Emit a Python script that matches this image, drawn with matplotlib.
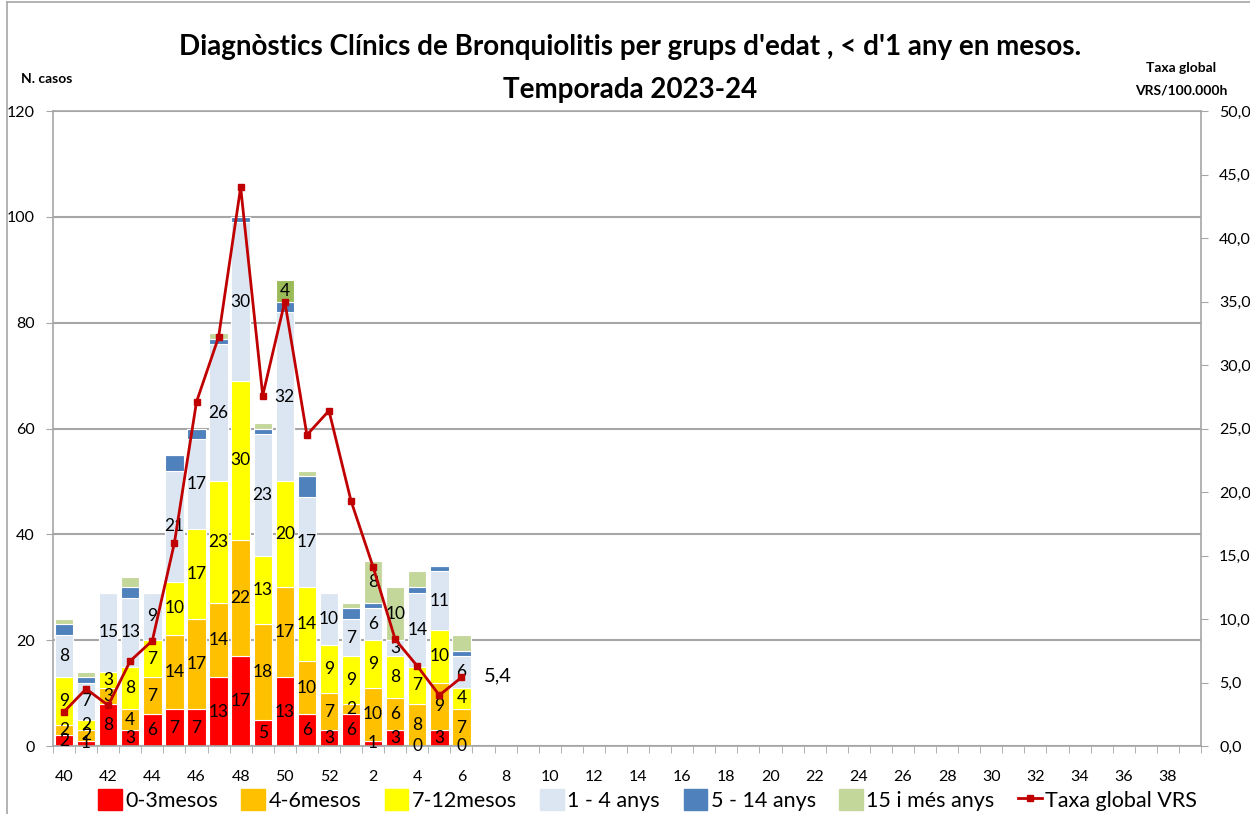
import numpy as np
import matplotlib
matplotlib.use("Agg")
import matplotlib.pyplot as plt
from matplotlib.lines import Line2D
from matplotlib.patches import Patch

plt.rcParams['font.family'] = ['Lato', 'DejaVu Sans']

# all weeks of the season (x categories)
weeks = [str(w) for w in range(40, 53)] + [str(w) for w in range(1, 40)]

# weeks with data: 40..52, 1..6
m0_3 = [2, 1, 8, 3, 6, 7, 7, 13, 17, 5, 13, 6, 3, 6, 1, 3, 0, 3, 0]
m4_6 = [2, 2, 3, 4, 7, 14, 17, 14, 22, 18, 17, 10, 7, 2, 10, 6, 8, 9, 7]
m7_12 = [9, 2, 3, 8, 7, 10, 17, 23, 30, 13, 20, 14, 9, 9, 9, 8, 7, 10, 4]
a1_4 = [8, 7, 15, 13, 9, 21, 17, 26, 30, 23, 32, 17, 10, 7, 6, 3, 14, 11, 6]
a5_14 = [2, 1, 0, 2, 0, 3, 2, 1, 1, 1, 2, 4, 0, 2, 1, 0, 1, 1, 1]
a15 = [1, 1, 0, 2, 0, 0, 0, 1, 0, 1, 4, 1, 0, 1, 8, 10, 3, 0, 3]
taxa = [2.7, 4.5, 3.2, 6.7, 8.3, 16.0, 27.1, 32.2, 44.0, 27.6, 35.0, 24.5,
        26.4, 19.3, 14.1, 8.4, 6.3, 4.0, 5.4]

series = [m0_3, m4_6, m7_12, a1_4, a5_14, a15]
names = ['0-3mesos', '4-6mesos', '7-12mesos', '1 - 4 anys', '5 - 14 anys', '15 i més anys']
colors = ['#FF0000', '#FFC000', '#FFFF00', '#DCE6F2', '#4F81BD', '#C4D79B']

fig = plt.figure(figsize=(12.5, 8.14), dpi=100)
ax = fig.add_axes([0.0424, 0.0835, 0.9184, 0.7801])

x = np.arange(len(taxa))
bottom = np.zeros(len(x))
for i, (vals, c) in enumerate(zip(series, colors)):
    vals = np.array(vals, dtype=float)
    cols = [c] * len(x)
    if i == 5:
        cols[10] = '#9BBB59'  # week 50 highlighted
    ax.bar(x, vals, 0.83, bottom=bottom, color=cols, edgecolor='white', linewidth=0.8, zorder=2)
    for xi, v, b in zip(x, vals, bottom):
        if i < 4 or (i == 5 and v >= 4):
            ax.text(xi, b + v / 2, '%d' % v, ha='center', va='center', fontsize=12.5, zorder=3)
    bottom += vals

ax.set_xlim(-0.5, len(weeks) - 0.5)
ax.set_ylim(0, 120)
ax.set_yticks(range(0, 121, 20))
ax.grid(axis='y', color='#A6A6A6', linewidth=1.5, zorder=0)
ax.set_xticks(np.arange(0, len(weeks), 2))
ax.set_xticklabels(weeks[::2], fontsize=11.5)
ax.set_xticks(np.arange(-0.5, len(weeks), 1), minor=True)
ax.tick_params(axis='x', which='major', length=0, pad=17)
ax.tick_params(axis='x', which='minor', length=5, color='#A6A6A6', direction='out')
ax.tick_params(axis='y', length=5, color='#A6A6A6', labelsize=11.5, pad=8)
for s in ax.spines.values():
    s.set_color('#A6A6A6')
    s.set_linewidth(1.2)

ax2 = ax.twinx()
ax2.set_ylim(0, 50)
ax2.set_yticks(np.arange(0, 51, 5))
ax2.set_yticklabels([('%.1f' % v).replace('.', ',') for v in np.arange(0, 51, 5)])
ax2.tick_params(axis='y', length=5, color='#A6A6A6', labelsize=11.5, pad=8)
for s in ax2.spines.values():
    s.set_visible(False)
ax2.plot(x, taxa, color='#C00000', linewidth=2, marker='s', markersize=4, zorder=5)
ax2.text(x[-1] + 1, taxa[-1] + 0.1, ('%.1f' % taxa[-1]).replace('.', ','), fontsize=14.5, va='center', ha='left')

fig.text(0.504, 0.942, "Diagnòstics Clínics de Bronquiolitis per grups d'edat , < d'1 any en mesos.",
         ha='center', va='center', fontsize=20, fontweight='bold')
fig.text(0.504, 0.889, "Temporada 2023-24", ha='center', va='center', fontsize=20, fontweight='bold')
fig.text(0.037, 0.903, "N. casos", ha='center', va='center', fontsize=10, fontweight='bold')
fig.text(0.945, 0.917, "Taxa global", ha='center', va='center', fontsize=10, fontweight='bold')
fig.text(0.945, 0.889, "VRS/100.000h", ha='center', va='center', fontsize=10, fontweight='bold')

# chart frame (top and left)
fig.add_artist(Line2D([0.0056, 1.0], [0.998, 0.998], color='#A6A6A6', linewidth=1.2))
fig.add_artist(Line2D([0.0056, 0.0056], [0.0, 0.998], color='#A6A6A6', linewidth=1.2))

handles = [Patch(color=c) for c in colors]
handles.append(Line2D([], [], color='#C00000', linewidth=2, marker='s', markersize=4))
fig.legend(handles, names + ['Taxa global VRS'], loc='center', bbox_to_anchor=(0.518, 0.017),
           ncol=7, frameon=False, fontsize=15.5, handlelength=1.1, handleheight=1.1,
           handletextpad=0.15, columnspacing=1.1)

fig.savefig('out.png', dpi=100)
